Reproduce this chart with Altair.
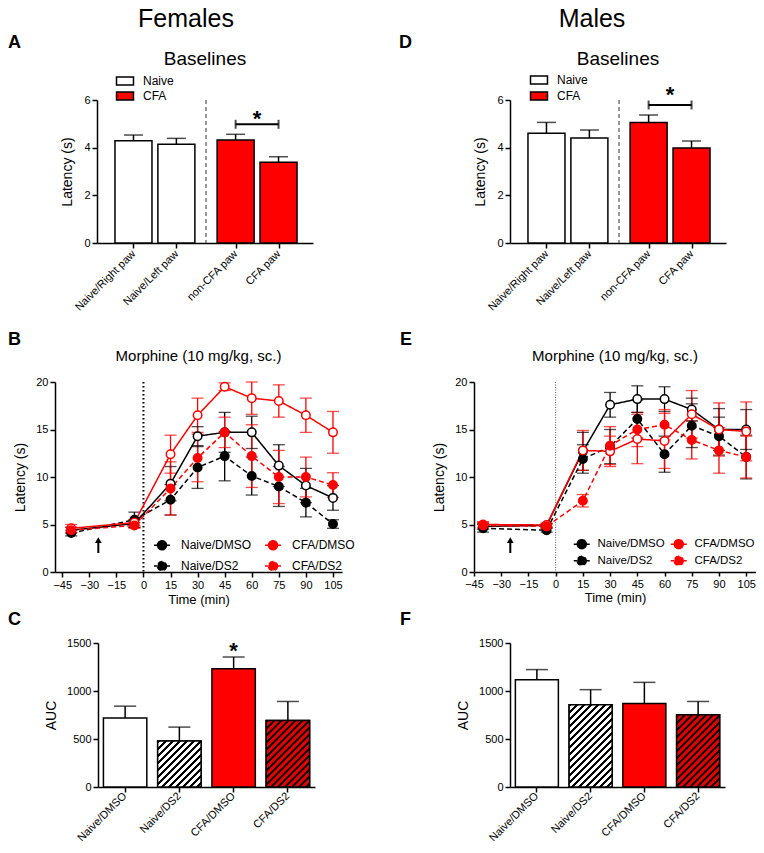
import altair as alt
import pandas as pd

FONT = "Liberation Sans"
RED = "#ff0000"

# ---------------- Panels A / D : baselines ----------------
baseline_cats = ["Naive/Right paw", "Naive/Left paw", "non-CFA paw", "CFA paw"]
baseline_groups = ["Naive", "Naive", "CFA", "CFA"]
fem_base_mean = [4.29, 4.14, 4.32, 3.39]
fem_base_sem = [0.24, 0.25, 0.24, 0.23]
male_base_mean = [4.61, 4.41, 5.06, 3.99]
male_base_sem = [0.45, 0.33, 0.31, 0.29]
fem_bracket_y = 4.98
fem_star_y = 4.9
male_bracket_y = 5.79
male_star_y = 5.9

# ---------------- Panels B / E : time course ----------------
times = [-40, -5, 15, 30, 45, 60, 75, 90, 105]
series = ["Naive/DMSO", "Naive/DS2", "CFA/DMSO", "CFA/DS2"]

f_naive_dmso = [4.4, 5.1, 9.3, 14.3, 14.7, 14.7, 11.2, 9.1, 7.8]
f_naive_dmso_sem = [0.3, 0.4, 1.8, 1.0, 2.1, 1.7, 2.2, 1.8, 1.3]
f_naive_ds2 = [4.1, 5.5, 7.6, 11.0, 12.2, 10.1, 9.0, 7.3, 5.05]
f_naive_ds2_sem = [0.3, 0.8, 1.6, 2.2, 2.6, 2.0, 2.1, 1.5, 0.45]
f_cfa_dmso = [4.6, 5.2, 12.4, 16.5, 19.5, 18.3, 18.0, 16.5, 14.7]
f_cfa_dmso_sem = [0.4, 0.3, 2.0, 1.8, 0.4, 1.7, 1.7, 1.8, 2.2]
f_cfa_ds2 = [4.4, 4.9, 8.8, 12.0, 14.7, 12.2, 10.0, 10.0, 9.15]
f_cfa_ds2_sem = [0.3, 0.3, 2.8, 2.5, 1.6, 3.3, 2.8, 2.1, 1.3]

m_naive_dmso = [4.8, 4.9, 12.7, 17.6, 18.2, 18.2, 17.1, 15.0, 15.0]
m_naive_dmso_sem = [0.3, 0.2, 2.0, 1.3, 1.4, 1.3, 1.2, 2.2, 2.1]
m_naive_ds2 = [4.6, 4.4, 11.9, 13.2, 16.1, 12.4, 15.4, 14.3, 12.1]
m_naive_ds2_sem = [0.4, 0.2, 1.5, 1.8, 2.0, 1.9, 2.3, 2.0, 2.3]
m_cfa_dmso = [5.0, 4.95, 12.8, 12.7, 14.0, 13.8, 16.6, 15.0, 14.8]
m_cfa_dmso_sem = [0.3, 0.2, 2.1, 1.6, 2.6, 2.9, 2.5, 2.8, 3.1]
m_cfa_ds2 = [4.9, 4.8, 7.5, 13.3, 15.0, 15.5, 13.9, 12.8, 12.1]
m_cfa_ds2_sem = [0.3, 0.2, 0.65, 2.0, 1.8, 1.6, 2.0, 2.4, 2.2]

arrow_time = -25
arrow_y = [2.0, 3.2, 3.35]  # shaft bottom, shaft top, head

# ---------------- Panels C / F : AUC ----------------
auc_cats = ["Naive/DMSO", "Naive/DS2", "CFA/DMSO", "CFA/DS2"]
f_auc = [720, 478, 1232, 693]
f_auc_sem = [122, 146, 122, 198]
m_auc = [1118, 857, 870, 752]
m_auc_sem = [105, 157, 220, 139]
f_auc_star_y = 1340

RECT_PATH = "M-2,-0.94H2V0.94H-2Z"
LINE_SYM = ("M-2,0H-1.125M1.125,0H2M1.125,0A1.125,1.125 0 1,1 -1.125,0"
            "A1.125,1.125 0 1,1 1.125,0Z")


def txt(text, x, y, size, weight="normal", align="left"):
    return alt.Chart(pd.DataFrame({"t": [text]})).mark_text(
        font=FONT, fontSize=size, fontWeight=weight, align=align,
        baseline="alphabetic", color="black"
    ).encode(text="t:N", x=alt.value(x), y=alt.value(y))


def extent(*ys):
    # invisible guide rules that fix the vertical extent of a row
    return [alt.Chart(pd.DataFrame({"a": [0]})).mark_rule(strokeOpacity=0, strokeWidth=1).encode(
        x=alt.value(0), x2=alt.value(1), y=alt.value(v)) for v in ys]


def baseline_panel(mean, sem, bracket_y, star_y, letter, letter_x, sex, sex_x,
                   leg_x, leg_y, leg_rowpad, bounds=(), W=216, H=143):
    unit = 45.0
    pos = [round(i + (0.38 if g == "CFA" else 0.0), 3)
           for i, g in enumerate(baseline_groups)]
    lo_dom = pos[0] - 33.0 / unit
    xdom = [lo_dom, lo_dom + W / unit]
    df = pd.DataFrame({"cat": baseline_cats, "group": baseline_groups, "pos": pos,
                       "mean": mean, "hi": [m + s for m, s in zip(mean, sem)]})
    expr = "''"
    for p, c in reversed(list(zip(pos, baseline_cats))):
        expr = f"abs(datum.value - {p}) < 0.01 ? '{c}' : " + expr
    xs = alt.Scale(domain=xdom, nice=False, zero=False)
    ys = alt.Scale(domain=[0, 6], nice=False)
    xax = alt.Axis(values=pos, labelExpr=expr, labelAngle=-45, labelAlign="right",
                   labelBaseline="middle", title=None, labelOverlap=False,
                   labelFlush=False, labelPadding=4)
    yax = alt.Axis(values=[0, 2, 4, 6], title="Latency (s)", titlePadding=9)

    def X(f):
        return alt.X(f, type="quantitative", scale=xs, axis=xax)

    def Y(f):
        return alt.Y(f, type="quantitative", scale=ys, axis=yax)

    base = alt.Chart(df)
    bars = base.mark_bar(orient="vertical", size=37, stroke="black", strokeWidth=1.5).encode(
        x=X("pos"), y=Y("mean"),
        fill=alt.Fill("group:N", scale=alt.Scale(domain=["Naive", "CFA"], range=["white", RED]),
                      legend=alt.Legend(title=None, orient="none", legendX=leg_x, legendY=leg_y,
                                        symbolType=RECT_PATH, symbolSize=72,
                                        symbolStrokeColor="black", symbolStrokeWidth=1.5,
                                        labelOffset=12, rowPadding=leg_rowpad, padding=0,
                                        labelFont=FONT, labelFontSize=12, labelColor="black")))
    err = base.mark_rule(color="black", strokeWidth=1.5).encode(x=X("pos"), y=Y("mean"), y2="hi:Q")
    cap = base.mark_tick(orient="horizontal", size=19, thickness=1.5, color="black").encode(
        x=X("pos"), y=Y("hi"))
    sep_df = pd.DataFrame({"pos": [(pos[1] + pos[2]) / 2]})
    sep = alt.Chart(sep_df).mark_rule(color="#333333", strokeWidth=1, strokeDash=[4, 3]).encode(x=X("pos"))
    br_df = pd.DataFrame({"x1": [pos[2]], "x2": [pos[3]], "y": [bracket_y]})
    bracket = alt.Chart(br_df).mark_rule(color="black", strokeWidth=2).encode(
        x=X("x1"), x2="x2:Q", y=Y("y"))
    ends_df = pd.DataFrame({"x": [pos[2], pos[3]], "y": [bracket_y, bracket_y]})
    ends = alt.Chart(ends_df).mark_tick(orient="vertical", size=9, thickness=2, color="black").encode(
        x=X("x"), y=Y("y"))
    star_df = pd.DataFrame({"x": [(pos[2] + pos[3]) / 2], "y": [star_y], "s": ["*"]})
    star = alt.Chart(star_df).mark_text(font=FONT, fontSize=22, fontWeight="bold",
                                        baseline="alphabetic", color="black").encode(
        x=X("x"), y=Y("y"), text="s:N")
    return alt.layer(
        bars, err, cap, sep, bracket, ends, star,
        txt(letter, letter_x, -52, 18, "bold"),
        txt(sex, sex_x, -73, 25, align="center"),
        txt("Baselines", W / 2, -35, 19, align="center"),
        *extent(*bounds),
    ).properties(width=W, height=H)


def time_panel(data, W, xdom, dot_rule, leg, letter, letter_x, title_pad, tick_size,
               bounds=(), leg_font=12, H=190):
    rows = []
    for s, (m, e) in zip(series, data):
        for t, mv, ev in zip(times, m, e):
            rows.append({"t": t, "series": s, "mean": mv, "lo": mv - ev, "hi": mv + ev})
    df = pd.DataFrame(rows)
    xs = alt.Scale(domain=xdom, nice=False, zero=False)
    ys = alt.Scale(domain=[0, 20], nice=False)
    xax = alt.Axis(values=list(range(-45, 106, 15)), title="Time (min)", labelFlush=False,
                   titlePadding=title_pad, tickSize=tick_size, titleFontSize=13)
    yax = alt.Axis(values=[0, 5, 10, 15, 20], title="Latency (s)", titlePadding=8)

    def X(f):
        return alt.X(f, type="quantitative", scale=xs, axis=xax)

    def Y(f):
        return alt.Y(f, type="quantitative", scale=ys, axis=yax)

    legend = alt.Legend(title=None, orient="none", columns=2, symbolType=LINE_SYM,
                        symbolSize=64, symbolStrokeWidth=1.5, padding=0,
                        labelFont=FONT, labelFontSize=leg_font, labelColor="black", **leg)
    stroke = alt.Stroke("series:N", scale=alt.Scale(domain=series, range=["black", "black", RED, RED]),
                        legend=legend)
    fill = alt.Fill("series:N", scale=alt.Scale(domain=series, range=["white", "black", "white", RED]),
                    legend=legend)
    color = alt.Color("series:N", scale=alt.Scale(domain=series, range=["black", "black", RED, RED]),
                      legend=None)
    dash = alt.StrokeDash("series:N", scale=alt.Scale(domain=series, range=[[1, 0], [5, 3], [1, 0], [5, 3]]),
                          legend=None)
    base = alt.Chart(df)
    vline = alt.Chart(pd.DataFrame({"t": [0]})).mark_rule(**dot_rule).encode(x=X("t"))
    err = base.mark_rule(strokeWidth=1.3).encode(x=X("t"), y=Y("lo"), y2="hi:Q", stroke=stroke)
    cap_hi = base.mark_tick(orient="horizontal", size=12, thickness=1.3).encode(
        x=X("t"), y=Y("hi"), color=color)
    cap_lo = base.mark_tick(orient="horizontal", size=12, thickness=1.3).encode(
        x=X("t"), y=Y("lo"), color=color)
    line = base.mark_line(strokeWidth=1.5).encode(x=X("t"), y=Y("mean"), stroke=stroke, strokeDash=dash)
    pts = base.mark_point(shape="circle", size=72, strokeWidth=1.5, opacity=1).encode(
        x=X("t"), y=Y("mean"), stroke=stroke, fill=fill)
    adf = pd.DataFrame({"t": [arrow_time], "y0": [arrow_y[0]], "y1": [arrow_y[1]], "yh": [arrow_y[2]]})
    shaft = alt.Chart(adf).mark_rule(color="black", strokeWidth=2).encode(x=X("t"), y=Y("y0"), y2="y1:Q")
    head = alt.Chart(adf).mark_point(shape="triangle-up", size=45, filled=True, color="black",
                                     opacity=1).encode(x=X("t"), y=Y("yh"))
    return alt.layer(
        vline, err, cap_hi, cap_lo, line, pts, shaft, head,
        txt(letter, letter_x, -37, 18, "bold"),
        txt("Morphine (10 mg/kg, sc.)", W / 2, -21, 15, align="center"),
        *extent(*bounds),
    ).properties(width=W, height=H)


def hatch(w, h, bg, fg, period=7.0, frac=0.42):
    tmax = (w + h) * w / (w * w + h * h)
    n = (w + h) / period
    stops = []
    k = 0
    while k / n < 1:
        a = k / n
        b = min((k + frac) / n, 1.0)
        stops += [(a, bg), (a, fg), (b, fg), (b, bg)]
        k += 1
    return {"gradient": "linear", "x1": 0, "y1": 0, "x2": tmax, "y2": tmax * h / w,
            "stops": [{"offset": round(o, 4), "color": c} for o, c in stops]}


def auc_panel(mean, sem, star_y, letter, letter_x, W, bounds=(), H=144):
    pi, po = 0.2, 0.1
    step = W / (len(auc_cats) - pi + 2 * po)
    bw = step * (1 - pi)
    df = pd.DataFrame({"cat": auc_cats, "mean": mean, "hi": [m + s for m, s in zip(mean, sem)]})
    xs = alt.Scale(domain=auc_cats, paddingInner=pi, paddingOuter=po)
    ys = alt.Scale(domain=[0, 1500], nice=False)
    xax = alt.Axis(title=None, labelAngle=-45, labelAlign="right", labelBaseline="middle",
                   labelPadding=2)
    yax = alt.Axis(values=[0, 500, 1000, 1500], format="d", title="AUC", titlePadding=8)

    def X(f):
        return alt.X(f, type="nominal", scale=xs, axis=xax, sort=auc_cats)

    def Y(f):
        return alt.Y(f, type="quantitative", scale=ys, axis=yax)

    base = alt.Chart(df)
    bars = base.mark_bar(stroke="black", strokeWidth=1.5).encode(
        x=X("cat"), y=Y("mean"),
        fill=alt.Fill("cat:N", scale=alt.Scale(domain=auc_cats, range=["white", "white", RED, RED]),
                      legend=None))
    layers = [bars]
    hatch_style = {"Naive/DS2": ("white", "black", 0.38), "CFA/DS2": ("#e00000", "#200000", 0.45)}
    for c, m in zip(auc_cats, mean):
        if c in hatch_style:
            bg, fg, fr = hatch_style[c]
            g = hatch(bw, m / 1500 * H, bg, fg, frac=fr)
            layers.append(base.transform_filter(alt.datum.cat == c).mark_bar(
                fill=g, stroke="black", strokeWidth=1.5).encode(x=X("cat"), y=Y("mean")))
    err = base.mark_rule(color="black", strokeWidth=1.5).encode(x=X("cat"), y=Y("mean"), y2="hi:Q")
    cap = base.mark_tick(size=22, thickness=1.5, color="black").encode(x=X("cat"), y=Y("hi"))
    layers += [err, cap]
    if star_y is not None:
        sdf = pd.DataFrame({"cat": ["CFA/DMSO"], "y": [star_y], "s": ["*"]})
        layers.append(alt.Chart(sdf).mark_text(font=FONT, fontSize=22, fontWeight="bold",
                                               baseline="alphabetic", color="black").encode(
            x=X("cat"), y=Y("y"), text="s:N"))
    layers.append(txt(letter, letter_x, -18, 18, "bold"))
    layers += extent(*bounds)
    return alt.layer(*layers).properties(width=W, height=H)


def spacer(w, h):
    return alt.Chart(pd.DataFrame({"a": [0]})).mark_point(opacity=0).encode(
        x=alt.value(0), y=alt.value(0)).properties(width=w, height=h)


def indep(c):
    return c.resolve_scale(fill="independent", stroke="independent", color="independent",
                           strokeDash="independent", x="independent", y="independent"
                           ).resolve_legend(fill="independent", stroke="independent",
                                            color="independent", strokeDash="independent")


pA = baseline_panel(fem_base_mean, fem_base_sem, fem_bracket_y, fem_star_y, "A", -89, "Females", 89,
                    22, -25, 1, bounds=(225,))
pD = baseline_panel(male_base_mean, male_base_sem, male_bracket_y, male_star_y, "D", -111, "Males", 82,
                    23, -26, 2)

pB = time_panel(
    [(f_naive_dmso, f_naive_dmso_sem), (f_naive_ds2, f_naive_ds2_sem),
     (f_cfa_dmso, f_cfa_dmso_sem), (f_cfa_ds2, f_cfa_ds2_sem)],
    287, [-49, 110], dict(color="black", strokeWidth=2, strokeDash=[1.5, 2.5]),
    dict(legendX=101, legendY=157, columnPadding=10, rowPadding=5, labelOffset=13),
    "B", -47, 3, 5, bounds=(-57, 227))
pE = time_panel(
    [(m_naive_dmso, m_naive_dmso_sem), (m_naive_ds2, m_naive_ds2_sem),
     (m_cfa_dmso, m_cfa_dmso_sem), (m_cfa_ds2, m_cfa_ds2_sem)],
    282, [-45, 110.4], dict(color="#555555", strokeWidth=1, strokeDash=[1, 1.5]),
    dict(legendX=102, legendY=156, columnPadding=2, rowPadding=1, labelOffset=10),
    "E", -74, 2, 4, leg_font=11.5)

pC = auc_panel(f_auc, f_auc_sem, f_auc_star_y, "C", -90, 217, bounds=(-34,))
pF = auc_panel(m_auc, m_auc_sem, None, "F", -110, 215)

row1 = indep(alt.hconcat(spacer(42, 1), pA, spacer(197, 1), pD, spacing=0, bounds="flush"))
row2 = indep(alt.hconcat(pB, spacer(132, 1), pE, spacing=0, bounds="flush"))
row3 = indep(alt.hconcat(spacer(43, 1), pC, spacer(195, 1), pF, spacing=0, bounds="flush"))

chart = indep(alt.vconcat(row1, row2, row3, spacing=0, bounds="full"))

chart = chart.properties(
    padding={"top": -1, "bottom": -2, "left": 0, "right": 0}, background="white"
).configure_view(stroke=None).configure_axis(
    domainColor="black", domainWidth=1.5, tickColor="black", tickWidth=1.5, tickSize=5,
    labelColor="black", labelFont=FONT, labelFontSize=11, labelPadding=2,
    titleFont=FONT, titleFontSize=14, titleFontWeight="normal", titleColor="black", grid=False
)

chart.save("out.html", embed_options={"renderer": "svg", "actions": False})
